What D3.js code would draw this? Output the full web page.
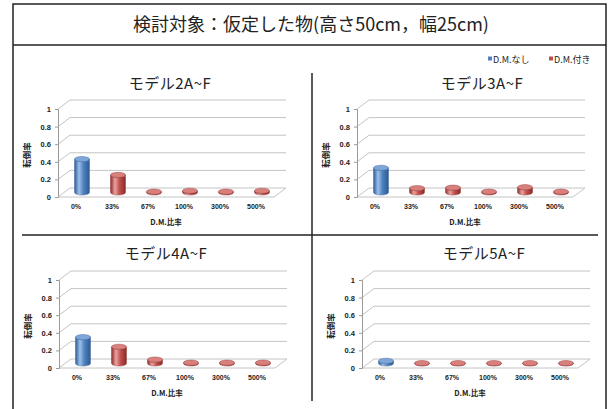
<!DOCTYPE html>
<html>
<head>
<meta charset="utf-8">
<script src="https://cdn.jsdelivr.net/npm/d3@7"></script>
<style>
  html, body { margin: 0; padding: 0; background: #fff; }
  svg { display: block; }
  text { font-family: "Liberation Sans", "Noto Sans CJK JP", sans-serif; }
  .jp { font-family: "Noto Sans CJK JP", sans-serif; }
</style>
</head>
<body>
<svg id="chart" width="613" height="409"></svg>
<script>
// Categories (D.M. ratio) shared by all four panels
const categories = ["0%", "33%", "67%", "100%", "300%", "500%"];
// Which series each category belongs to: 0 = D.M.なし, 1 = D.M.付き
const seriesOfCategory = [0, 1, 1, 1, 1, 1];
const seriesNames = ["D.M.なし", "D.M.付き"];
const yTicks = [0, 0.2, 0.4, 0.6, 0.8, 1];
const yTickLabels = ["0", "0.2", "0.4", "0.6", "0.8", "1"];

// Overturning rate per model
const model2 = [0.38, 0.20, 0.01, 0.02, 0.01, 0.02];
const model3 = [0.28, 0.05, 0.055, 0.01, 0.06, 0.01];
const model4 = [0.30, 0.19, 0.045, 0.01, 0.01, 0.01];
const model5 = [0.03, 0.005, 0.005, 0.005, 0.005, 0.005];

const panelTitles = ["モデル2A~F", "モデル3A~F", "モデル4A~F", "モデル5A~F"];
const panelValues = [model2, model3, model4, model5];

const mainTitle = "検討対象：仮定した物(高さ50cm，幅25cm)";

const svg = d3.select("#chart");

// gradients for the cylinders
const defs = svg.append("defs");
const palettes = [
  { dark: "#2c5a94", mid: "#4f81bd", light: "#9cc0ec", top: "#7fa6d8" },
  { dark: "#8a2a28", mid: "#c0504d", light: "#eba3a1", top: "#d9807d" }
];
palettes.forEach((p, i) => {
  const g = defs.append("linearGradient").attr("id", "cyl" + i)
    .attr("x1", "0%").attr("x2", "100%").attr("y1", "0%").attr("y2", "0%");
  g.append("stop").attr("offset", "0%").attr("stop-color", p.dark);
  g.append("stop").attr("offset", "30%").attr("stop-color", p.light);
  g.append("stop").attr("offset", "60%").attr("stop-color", p.mid);
  g.append("stop").attr("offset", "100%").attr("stop-color", p.dark);
});

// frame
const frame = svg.append("g").attr("stroke", "#222").attr("fill", "none");
frame.append("rect").attr("x", 13).attr("y", 4).attr("width", 593).attr("height", 420).attr("stroke-width", 1.5);
frame.append("line").attr("x1", 13).attr("x2", 606).attr("y1", 45).attr("y2", 45).attr("stroke-width", 1.5);
frame.append("line").attr("x1", 312).attr("x2", 312).attr("y1", 73).attr("y2", 401).attr("stroke-width", 1.5);
frame.append("line").attr("x1", 22).attr("x2", 598).attr("y1", 235).attr("y2", 235).attr("stroke-width", 1.5);

svg.append("text").attr("class", "jp")
  .attr("x", 311).attr("y", 31).attr("text-anchor", "middle")
  .attr("font-size", 18).attr("fill", "#222").text(mainTitle);

// legend
const legend = svg.append("g").attr("transform", "translate(488,60)");
seriesNames.forEach((name, i) => {
  const lg = legend.append("g").attr("transform", `translate(${i * 61},0)`);
  lg.append("rect").attr("x", 0).attr("y", -3.5).attr("width", 4).attr("height", 4).attr("fill", palettes[i].mid);
  lg.append("text").attr("class", "jp").attr("x", 5).attr("y", 0).attr("dy", "0.35em")
    .attr("font-size", 9).attr("fill", "#222").text(name);
});

// panel placement: front-left floor corner and title centre
const panels = [
  { ox: 58, oy: 197, tx: 170, ty: 89 },
  { ox: 357, oy: 197, tx: 482, ty: 89 },
  { ox: 59, oy: 368, tx: 166, ty: 259 },
  { ox: 362, oy: 368, tx: 484, ty: 259 }
];

const W = 216, H = 88, DX = 12, DY = -9;
const rx = 7.5, ry = 2.6;

panels.forEach((p, pi) => {
  const g = svg.append("g").attr("transform", `translate(${p.ox},${p.oy})`);
  const x = d3.scaleBand().domain(categories).range([0, W]);
  const y = d3.scaleLinear().domain([0, 1]).range([0, -H]);

  // title
  svg.append("text").attr("class", "jp")
    .attr("x", p.tx).attr("y", p.ty).attr("text-anchor", "middle")
    .attr("font-size", 15).attr("letter-spacing", 0.5).attr("fill", "#222")
    .text(panelTitles[pi]);

  // back wall gridlines and side wall diagonals
  const grid = g.append("g").attr("stroke", "#c4c4c4").attr("stroke-width", 1).attr("fill", "none");
  yTicks.forEach(t => {
    grid.append("line").attr("x1", DX).attr("x2", DX + W).attr("y1", y(t) + DY).attr("y2", y(t) + DY);
    grid.append("line").attr("x1", 0).attr("x2", DX).attr("y1", y(t)).attr("y2", y(t) + DY);
  });
  // floor
  grid.append("line").attr("x1", 0).attr("x2", W).attr("y1", 0).attr("y2", 0);
  grid.append("line").attr("x1", W).attr("x2", W + DX).attr("y1", 0).attr("y2", DY);

  // y axis
  const yAxis = d3.axisLeft(y).tickValues(yTicks).tickSize(3)
    .tickFormat((d, i) => yTickLabels[i]);
  const ya = g.append("g").call(yAxis);
  ya.select(".domain").attr("stroke", "#9a9a9a");
  ya.selectAll(".tick line").attr("stroke", "#9a9a9a");
  ya.selectAll(".tick text").attr("font-size", 7.5).attr("font-weight", "bold")
    .attr("fill", "#222").attr("x", -7);

  // x axis labels
  const xAxis = d3.axisBottom(x).tickSize(0);
  const xa = g.append("g").call(xAxis);
  xa.select(".domain").remove();
  xa.selectAll(".tick text").attr("font-size", 7).attr("font-weight", "bold")
    .attr("fill", "#222").attr("y", 7);

  // axis titles
  g.append("text").attr("class", "jp")
    .attr("transform", `translate(-28,${-H / 2 + 2}) rotate(-90)`)
    .attr("text-anchor", "middle").attr("font-size", 8.5).attr("font-weight", "bold")
    .attr("fill", "#222").text("転倒率");
  g.append("text").attr("class", "jp")
    .attr("x", W / 2).attr("y", 28).attr("text-anchor", "middle")
    .attr("font-size", 7.5).attr("font-weight", "bold").attr("fill", "#222").text("D.M.比率");

  // cylinders
  const vals = panelValues[pi];
  categories.forEach((c, i) => {
    const s = seriesOfCategory[i];
    const cx = x(c) + x.bandwidth() / 2 + DX / 2;
    const by = DY / 2;
    const ty = by + y(vals[i]);
    const body = `M${cx - rx},${ty} L${cx - rx},${by} A${rx},${ry} 0 0 0 ${cx + rx},${by} L${cx + rx},${ty} A${rx},${ry} 0 0 1 ${cx - rx},${ty} Z`;
    g.append("path").attr("d", body).attr("fill", `url(#cyl${s})`)
      .attr("stroke", palettes[s].dark).attr("stroke-width", 0.4);
    g.append("ellipse").attr("cx", cx).attr("cy", ty).attr("rx", rx).attr("ry", ry)
      .attr("fill", palettes[s].top).attr("stroke", palettes[s].dark).attr("stroke-width", 0.4);
  });
});
</script>
</body>
</html>
